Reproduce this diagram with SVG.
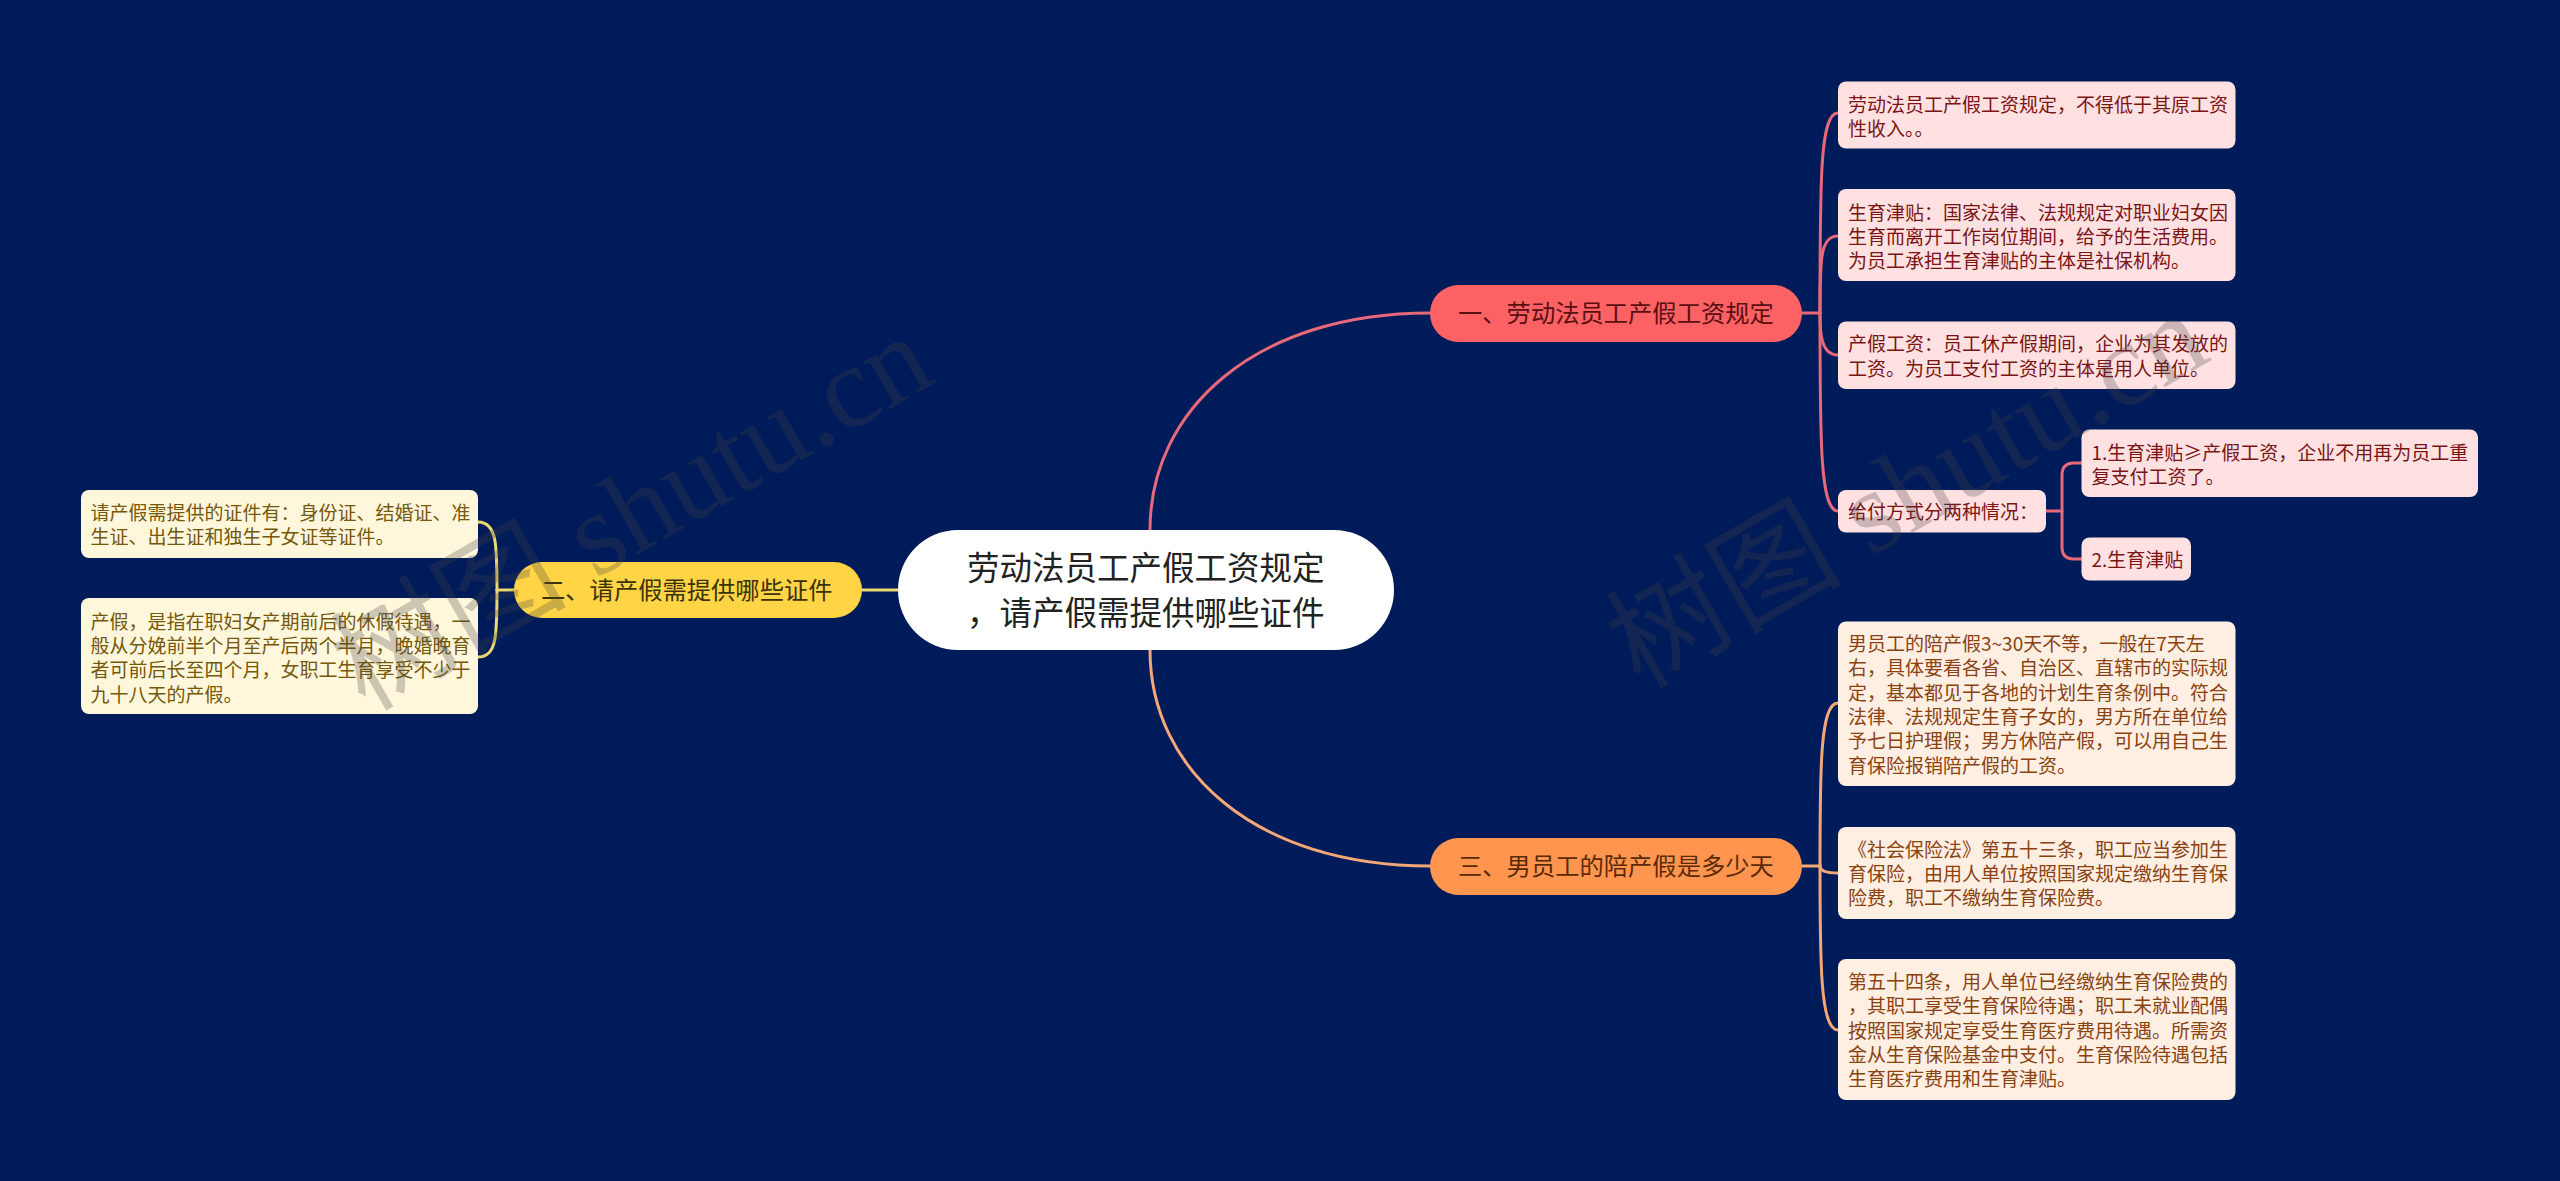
<svg xmlns="http://www.w3.org/2000/svg" width="2560" height="1181" viewBox="0 0 2560 1181">
<style>
text{font-family:"Noto Sans CJK SC","Noto Sans",sans-serif}
.c{fill:none;stroke-width:3;stroke-linecap:round}
.red{stroke:#E8697A}.org{stroke:#F4A878}.yel{stroke:#EBD86E}
.b{font-size:19px}
.t{font-size:24.300px}
.r rect{fill:#FFE1E2}.r text{fill:#7B1414}
.o rect{fill:#FFEEE2}.o text{fill:#8A4210}
.y rect{fill:#FFF7DC}.y text{fill:#75580A}
.wm{font-family:"Liberation Serif","Noto Sans CJK SC",serif;font-size:118px;fill:#454545;fill-opacity:.28}
</style>
<rect width="2560" height="1181" fill="#001B59"/>
<g id="connectors">
<path class="c red" d="M1150 530C1150 410 1255 313 1430 313"/>
<path class="c org" d="M1150 650C1150 770 1255 866 1430 866"/>
<path class="c yel" d="M862 590H898"/>
<path class="c red" d="M1802 313H1820"/>
<path class="c red" d="M1820 313C1820 180 1820 113 1838 113"/>
<path class="c red" d="M1820 313C1820 260 1820 236 1838 236"/>
<path class="c red" d="M1820 313C1820 330 1820 355 1838 355"/>
<path class="c red" d="M1820 313C1820 440 1820 511 1838 511"/>
<path class="c red" d="M2046 511H2062"/>
<path class="c red" d="M2081 463H2074Q2062 463 2062 475V547Q2062 559 2074 559H2081"/>
<path class="c org" d="M1802 866H1820"/>
<path class="c org" d="M1820 866C1820 770 1820 703 1838 703"/>
<path class="c org" d="M1820 866C1820 870 1824 873 1838 873"/>
<path class="c org" d="M1820 866C1820 960 1820 1030 1838 1030"/>
<path class="c yel" d="M514 590H497"/>
<path class="c yel" d="M497 590C497 545 497 522 478 522"/>
<path class="c yel" d="M497 590C497 635 497 657 478 657"/>
</g>
<g id="root"><rect x="898" y="530" width="496" height="120" rx="60" fill="#fff"/>
<text font-size="32.5" fill="#222" x="967" y="579.5">劳动法员工产假工资规定</text>
<text font-size="32.5" fill="#222" x="967" y="624.5">，请产假需提供哪些证件</text></g>
<g id="topic1"><rect x="1430" y="285" width="372" height="57" rx="28.5" fill="#FC6163"/>
<text class="t" fill="#5A1012" x="1458" y="322">一、劳动法员工产假工资规定</text></g>
<g id="topic2"><rect x="514" y="562" width="348" height="56" rx="28" fill="#FFD445"/>
<text class="t" fill="#3C3208" x="541" y="598.5">二、请产假需提供哪些证件</text></g>
<g id="topic3"><rect x="1430" y="838" width="372" height="57" rx="28.5" fill="#FF954F"/>
<text class="t" fill="#5A2A08" x="1458" y="875">三、男员工的陪产假是多少天</text></g>
<g id="n1" class="r"><rect x="1838" y="81.500" width="397.500" height="67" rx="8"/>
<text class="b" x="1848" y="112">劳动法员工产假工资规定，不得低于其原工资</text>
<text class="b" x="1848" y="136">性收入。。</text></g>
<g id="n2" class="r"><rect x="1838" y="189" width="397.500" height="92" rx="8"/>
<text class="b" x="1848" y="219.500">生育津贴：国家法律、法规规定对职业妇女因</text>
<text class="b" x="1848" y="244">生育而离开工作岗位期间，给予的生活费用。</text>
<text class="b" x="1848" y="268">为员工承担生育津贴的主体是社保机构。</text></g>
<g id="n3" class="r"><rect x="1838" y="321.500" width="397.500" height="67.500" rx="8"/>
<text class="b" x="1848" y="351">产假工资：员工休产假期间，企业为其发放的</text>
<text class="b" x="1848" y="375.500">工资。为员工支付工资的主体是用人单位。</text></g>
<g id="n4" class="r"><rect x="1838" y="490" width="208" height="42.500" rx="8"/>
<text class="b" x="1848" y="519">给付方式分两种情况：</text></g>
<g id="n41" class="r"><rect x="2081.500" y="429.500" width="396.500" height="67.500" rx="8"/>
<text class="b" x="2091.500" y="459.500">1.生育津贴≥产假工资，企业不用再为员工重</text>
<text class="b" x="2091.500" y="483.700">复支付工资了。</text></g>
<g id="n42" class="r"><rect x="2081.500" y="537.500" width="109.500" height="43" rx="8"/>
<text class="b" x="2091.500" y="567">2.生育津贴</text></g>
<g id="n5" class="o"><rect x="1838" y="621.500" width="397.500" height="164.500" rx="8"/>
<text class="b" x="1848" y="651">男员工的陪产假3~30天不等，一般在7天左</text>
<text class="b" x="1848" y="675.300">右，具体要看各省、自治区、直辖市的实际规</text>
<text class="b" x="1848" y="699.600">定，基本都见于各地的计划生育条例中。符合</text>
<text class="b" x="1848" y="723.900">法律、法规规定生育子女的，男方所在单位给</text>
<text class="b" x="1848" y="748.200">予七日护理假；男方休陪产假，可以用自己生</text>
<text class="b" x="1848" y="772.500">育保险报销陪产假的工资。</text></g>
<g id="n6" class="o"><rect x="1838" y="827" width="397.500" height="92" rx="8"/>
<text class="b" x="1848" y="856.500">《社会保险法》第五十三条，职工应当参加生</text>
<text class="b" x="1848" y="880.800">育保险，由用人单位按照国家规定缴纳生育保</text>
<text class="b" x="1848" y="905.100">险费，职工不缴纳生育保险费。</text></g>
<g id="n7" class="o"><rect x="1838" y="959" width="397.500" height="141" rx="8"/>
<text class="b" x="1848" y="989">第五十四条，用人单位已经缴纳生育保险费的</text>
<text class="b" x="1848" y="1013.300">，其职工享受生育保险待遇；职工未就业配偶</text>
<text class="b" x="1848" y="1037.600">按照国家规定享受生育医疗费用待遇。所需资</text>
<text class="b" x="1848" y="1061.900">金从生育保险基金中支付。生育保险待遇包括</text>
<text class="b" x="1848" y="1086.200">生育医疗费用和生育津贴。</text></g>
<g id="n8" class="y"><rect x="81" y="490" width="397" height="68" rx="8"/>
<text class="b" x="90.500" y="520">请产假需提供的证件有：身份证、结婚证、准</text>
<text class="b" x="90.500" y="544">生证、出生证和独生子女证等证件。</text></g>
<g id="n9" class="y"><rect x="81" y="598" width="397" height="116" rx="8"/>
<text class="b" x="90.500" y="628.700">产假，是指在职妇女产期前后的休假待遇，一</text>
<text class="b" x="90.500" y="653">般从分娩前半个月至产后两个半月，晚婚晚育</text>
<text class="b" x="90.500" y="677.300">者可前后长至四个月，女职工生育享受不少于</text>
<text class="b" x="90.500" y="701.600">九十八天的产假。</text></g>
<g id="watermark">
<text class="wm" transform="translate(365 712) rotate(-30)">树图 shutu.cn</text>
<text class="wm" transform="translate(1640 690) rotate(-30)">树图 shutu.cn</text>
</g>
</svg>
